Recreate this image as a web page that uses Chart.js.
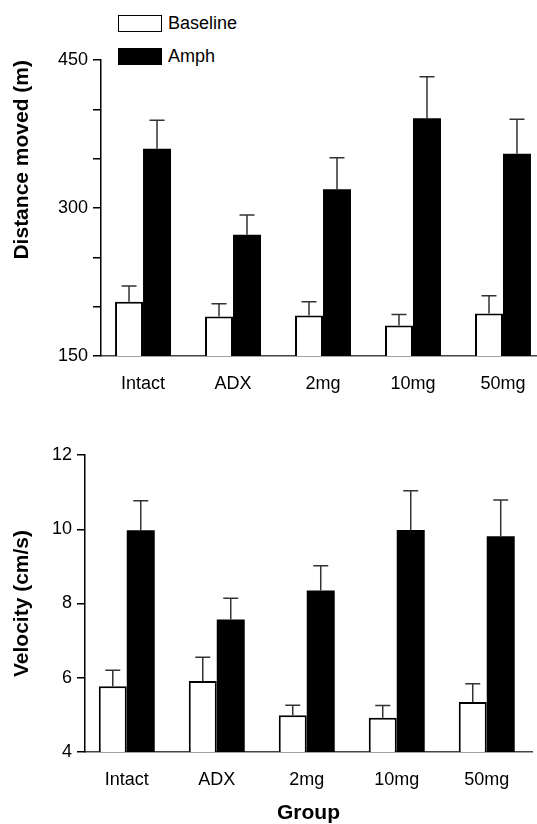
<!DOCTYPE html>
<html lang="en">
<head>
    <meta charset="UTF-8">
    <title>Distance and velocity by group</title>
    <script src="https://cdn.jsdelivr.net/npm/chart.js"></script>
    <style>
        body { margin: 0; width: 537px; height: 824px; overflow: hidden; position: relative; background: #fff;
               font-family: "Liberation Sans", Arial, sans-serif; }
        canvas { position: absolute; left: 0; }
        .key { position: absolute; left: 118px; height: 17px; font-size: 18px; line-height: 17px; color: #000; }
        .key span { display: inline-block; width: 44px; height: 17px; box-sizing: border-box; border: 1.5px solid #000;
                    vertical-align: top; margin-right: 6px; }
    </style>
</head>
<body>
    <div class="key" style="top: 15px;"><span style="background:#fff"></span>Baseline</div>
    <div class="key" style="top: 48px;"><span style="background:#000"></span>Amph</div>

    <canvas id="distChart" width="537" height="400" style="top: 0;"></canvas>
    <canvas id="velChart" width="537" height="424" style="top: 400px;"></canvas>

    <script>
        const groups = ["Intact", "ADX", "2mg", "10mg", "50mg"];

        // distance moved (m), mean and SEM
        const distBaseline = [205, 190, 191, 181, 193];
        const distBaselineSem = [16, 13, 14, 11, 18];
        const distAmph = [360, 273, 319, 391, 355];
        const distAmphSem = [29, 20, 32, 42, 35];

        // velocity (cm/s), mean and SEM
        const velBaseline = [5.77, 5.91, 4.99, 4.92, 5.35];
        const velBaselineSem = [0.43, 0.64, 0.27, 0.33, 0.49];
        const velAmph = [9.97, 7.57, 8.35, 9.98, 9.81];
        const velAmphSem = [0.8, 0.57, 0.67, 1.06, 0.98];

        const FONT = "'Liberation Sans', Arial, sans-serif";

        // draws the upper half of the error bars
        const errorBars = {
            id: "errorBars",
            afterDatasetsDraw(chart) {
                const ctx = chart.ctx;
                const yScale = chart.scales.y;
                chart.data.datasets.forEach((ds, i) => {
                    const meta = chart.getDatasetMeta(i);
                    meta.data.forEach((bar, j) => {
                        const top = yScale.getPixelForValue(ds.data[j].y + ds.errors[j]);
                        ctx.save();
                        ctx.strokeStyle = "#333";
                        ctx.lineWidth = 1.5;
                        ctx.beginPath();
                        ctx.moveTo(bar.x, bar.y);
                        ctx.lineTo(bar.x, top);
                        ctx.moveTo(bar.x - 7.5, top);
                        ctx.lineTo(bar.x + 7.5, top);
                        ctx.stroke();
                        ctx.restore();
                    });
                });
            }
        };

        function makeChart(id, base, baseSem, amph, amphSem, opt) {
            const toPoints = arr => arr.map((v, i) => ({ x: i, y: v }));
            return new Chart(document.getElementById(id), {
                type: "bar",
                data: {
                    datasets: [
                        { label: "Baseline", data: toPoints(base), errors: baseSem,
                          backgroundColor: "#fff", borderColor: "#000", borderWidth: 2 },
                        { label: "Amph", data: toPoints(amph), errors: amphSem,
                          backgroundColor: "#000", borderColor: "#000", borderWidth: 0 }
                    ]
                },
                options: {
                    responsive: false,
                    animation: false,
                    devicePixelRatio: 1,
                    layout: { padding: { top: opt.padTop, right: opt.padRight, left: 0, bottom: 0 } },
                    categoryPercentage: 0.622,
                    barPercentage: 1.0,
                    plugins: { legend: { display: false }, tooltip: { enabled: false } },
                    scales: {
                        x: {
                            type: "linear",
                            offset: false,
                            min: opt.xMin,
                            max: opt.xMax,
                            grid: { display: false, offset: false },
                            border: { display: true, color: "#444", width: 1.5 },
                            afterBuildTicks: s => { s.ticks = groups.map((g, i) => ({ value: i })); },
                            afterFit: s => { s.height = opt.xHeight; },
                            ticks: {
                                padding: 9,
                                color: "#000",
                                font: { family: FONT, size: 18 },
                                callback: v => groups[v]
                            },
                            title: opt.xTitle
                        },
                        y: {
                            min: opt.yMin,
                            max: opt.yMax,
                            afterFit: s => { s.width = opt.yWidth; },
                            grid: { drawOnChartArea: false, drawTicks: true, tickLength: 8, color: "#000", lineWidth: 1.5 },
                            border: { display: true, color: "#000", width: 1.5 },
                            ticks: {
                                stepSize: opt.yStep,
                                padding: opt.tickPad,
                                color: "#000",
                                font: { family: FONT, size: 18 },
                                callback: opt.yLabel
                            },
                            title: {
                                display: true,
                                text: opt.yTitle,
                                align: opt.yAlign,
                                color: "#000",
                                padding: { top: 10, bottom: 0 },
                                font: { family: FONT, size: 21, weight: "bold" }
                            }
                        }
                    }
                },
                plugins: [errorBars]
            });
        }

        makeChart("distChart", distBaseline, distBaselineSem, distAmph, distAmphSem, {
            padTop: 60, padRight: 0,
            xMin: -0.467, xMax: 4.378, xHeight: 44,
            xTitle: { display: false },
            yMin: 150, yMax: 450, yStep: 50, yWidth: 101, tickPad: 5,
            yLabel: v => (v % 150 === 0 ? v : ""),
            yTitle: "Distance moved (m)", yAlign: "end"
        });

        makeChart("velChart", velBaseline, velBaselineSem, velAmph, velAmphSem, {
            padTop: 55, padRight: 5,
            xMin: -0.464, xMax: 4.503, xHeight: 72,
            xTitle: {
                display: true, text: "Group", color: "#000",
                padding: { top: 0, bottom: 0 },
                font: { family: FONT, size: 21, weight: "bold", lineHeight: 1 }
            },
            yMin: 4, yMax: 12, yStep: 2, yWidth: 85, tickPad: 5,
            yLabel: v => v,
            yTitle: "Velocity (cm/s)", yAlign: "center"
        });
    </script>
</body>
</html>
